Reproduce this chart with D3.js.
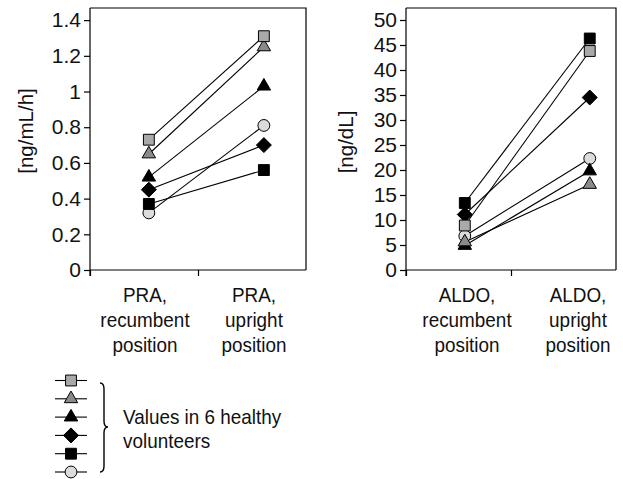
<!DOCTYPE html>
<html>
<head>
<meta charset="utf-8">
<script src="https://cdn.jsdelivr.net/npm/d3@7"></script>
<style>
  html, body { margin: 0; padding: 0; background: #fff; }
  svg { display: block; font-family: "Liberation Sans", Arial, sans-serif; }
</style>
</head>
<body>
<svg id="chart" width="623" height="479"></svg>
<script>
// ---------- DATA ----------
const series = ["S1", "S2", "S3", "S4", "S5", "S6"]; // legend order
const seriesShape = ["square", "triangle", "triangle", "diamond", "square", "circle"];
const seriesFill  = ["#a9a9a9", "#8a8a8a", "#000000", "#000000", "#000000", "#dcdcdc"];

const praCategories  = ["PRA,\nrecumbent\nposition", "PRA,\nupright\nposition"];
const praRecumbent   = [0.73, 0.65, 0.52, 0.45, 0.37, 0.32];
const praUpright     = [1.31, 1.25, 1.03, 0.70, 0.56, 0.81];
const praTicks       = [0, 0.2, 0.4, 0.6, 0.8, 1, 1.2, 1.4];
const praUnit        = "[ng/mL/h]";

const aldoCategories = ["ALDO,\nrecumbent\nposition", "ALDO,\nupright\nposition"];
const aldoRecumbent  = [8.9, 5.6, 4.9, 11.1, 13.4, 6.8];
const aldoUpright    = [43.8, 17.1, 19.8, 34.5, 46.3, 22.3];
const aldoTicks      = [0, 5, 10, 15, 20, 25, 30, 35, 40, 45, 50];
const aldoUnit       = "[ng/dL]";

const legendText = ["Values in 6 healthy", "volunteers"];

// ---------- LAYOUT ----------
const svg = d3.select("#chart");
const WORD_FONT = 21;     // drawn horizontally condensed
const WORD_SQUEEZE = 0.9;
const TICK_FONT = 21;
const UNIT_FONT = 20.5;

function markerPath(shape) {
  if (shape === "square")   return d3.symbol().type(d3.symbolSquare).size(118)();
  if (shape === "triangle") return d3.symbol().type(d3.symbolTriangle).size(78)();
  if (shape === "circle")   return d3.symbol().type(d3.symbolCircle).size(110)();
  if (shape === "diamond")  return "M0,-7.5L7.5,0L0,7.5L-7.5,0Z";
}

function condensedText(parent, x, y, lines, anchor, lineH) {
  const g = parent.append("g").attr("transform", `translate(${x},${y}) scale(${WORD_SQUEEZE},1)`);
  const t = g.append("text").attr("text-anchor", anchor)
    .attr("font-size", WORD_FONT).attr("fill", "#111");
  lines.forEach((line, j) => {
    t.append("tspan").attr("x", 0).attr("y", j * lineH).text(line);
  });
}

function panel(cfg) {
  const g = svg.append("g");
  const x = d3.scaleLinear().domain([0, 2]).range([cfg.x0, cfg.x1]);
  const y = d3.scaleLinear().domain([0, cfg.yMax]).range([cfg.yBottom, cfg.yTop]);

  // frame (top & right borders)
  g.append("path")
    .attr("d", `M${cfg.x0},${cfg.yTop}H${cfg.x1}V${cfg.yBottom}`)
    .attr("fill", "none").attr("stroke", "#000").attr("stroke-width", 1.2);

  // y axis
  const yAxis = d3.axisLeft(y).tickValues(cfg.ticks).tickSize(6).tickPadding(3)
    .tickFormat(d => String(d));
  const ya = g.append("g").attr("transform", `translate(${cfg.x0},0)`).call(yAxis);
  ya.select(".domain").attr("d", `M0,${cfg.yTop}V${cfg.yBottom + 6}`).attr("stroke-width", 1.2);
  ya.selectAll(".tick line").attr("stroke-width", 1.2);
  ya.selectAll("text").attr("font-size", TICK_FONT).attr("fill", "#111")
    .attr("font-family", '"Liberation Sans", Arial, sans-serif');

  // x axis
  const xAxis = d3.axisBottom(x).tickValues([0, 1, 2]).tickSize(6).tickFormat("");
  const xa = g.append("g").attr("transform", `translate(0,${cfg.yBottom})`).call(xAxis);
  xa.select(".domain").attr("d", `M${cfg.x0},0H${cfg.x1}`).attr("stroke-width", 1.2);
  xa.selectAll(".tick line").attr("stroke-width", 1.2);
  xa.selectAll(".tick").filter(d => d === 2).remove();

  // category labels
  cfg.categories.forEach((c, i) => {
    condensedText(g, cfg.labelX[i], cfg.yBottom + 32, c.split("\n"), "middle", 25);
  });

  // y unit label
  g.append("text")
    .attr("transform", `translate(${cfg.unitX},${cfg.unitY}) rotate(-90)`)
    .attr("text-anchor", "middle").attr("dominant-baseline", "central")
    .attr("font-size", UNIT_FONT).attr("fill", "#111").text(cfg.unit);

  // lines
  series.forEach((s, i) => {
    g.append("line")
      .attr("x1", x(cfg.px[0])).attr("y1", y(cfg.a[i]))
      .attr("x2", x(cfg.px[1])).attr("y2", y(cfg.b[i]))
      .attr("stroke", "#000").attr("stroke-width", 1.1);
  });
  // markers
  const order = [5, 4, 3, 2, 1, 0];
  order.forEach(i => {
    [cfg.a[i], cfg.b[i]].forEach((v, k) => {
      g.append("path")
        .attr("d", markerPath(seriesShape[i]))
        .attr("transform", `translate(${x(cfg.px[k])},${y(v)})`)
        .attr("fill", seriesFill[i]).attr("stroke", "#000").attr("stroke-width", 1);
    });
  });
}

panel({
  x0: 90, x1: 306, yTop: 8, yBottom: 270, yMax: 1.468,
  ticks: praTicks, categories: praCategories, labelX: [145, 254],
  px: [0.545, 1.61], a: praRecumbent, b: praUpright,
  unit: praUnit, unitX: 25, unitY: 131
});
panel({
  x0: 406, x1: 616, yTop: 8, yBottom: 270, yMax: 52.4,
  ticks: aldoTicks, categories: aldoCategories, labelX: [467, 578],
  px: [0.56, 1.75], a: aldoRecumbent, b: aldoUpright,
  unit: aldoUnit, unitX: 345, unitY: 142
});

// ---------- LEGEND ----------
const legY = d3.scalePoint().domain(series).range([380.5, 472]);
const lg = svg.append("g");
series.forEach((s, i) => {
  lg.append("line").attr("x1", 55).attr("x2", 87).attr("y1", legY(s)).attr("y2", legY(s))
    .attr("stroke", "#000").attr("stroke-width", 1.1);
  lg.append("path").attr("d", markerPath(seriesShape[i]))
    .attr("transform", `translate(71,${legY(s)})`)
    .attr("fill", seriesFill[i]).attr("stroke", "#000").attr("stroke-width", 1);
});
// curly brace
const bx = 100, bt = 383, bb = 472, bm = 427;
lg.append("path")
  .attr("d", `M${bx},${bt} Q${bx + 4},${bt} ${bx + 4},${bt + 6} L${bx + 4},${bm - 6} Q${bx + 4},${bm} ${bx + 8},${bm} Q${bx + 4},${bm} ${bx + 4},${bm + 6} L${bx + 4},${bb - 6} Q${bx + 4},${bb} ${bx},${bb}`)
  .attr("fill", "none").attr("stroke", "#000").attr("stroke-width", 1.4);
condensedText(lg, 123, 424, legendText, "start", 24);
</script>
</body>
</html>
